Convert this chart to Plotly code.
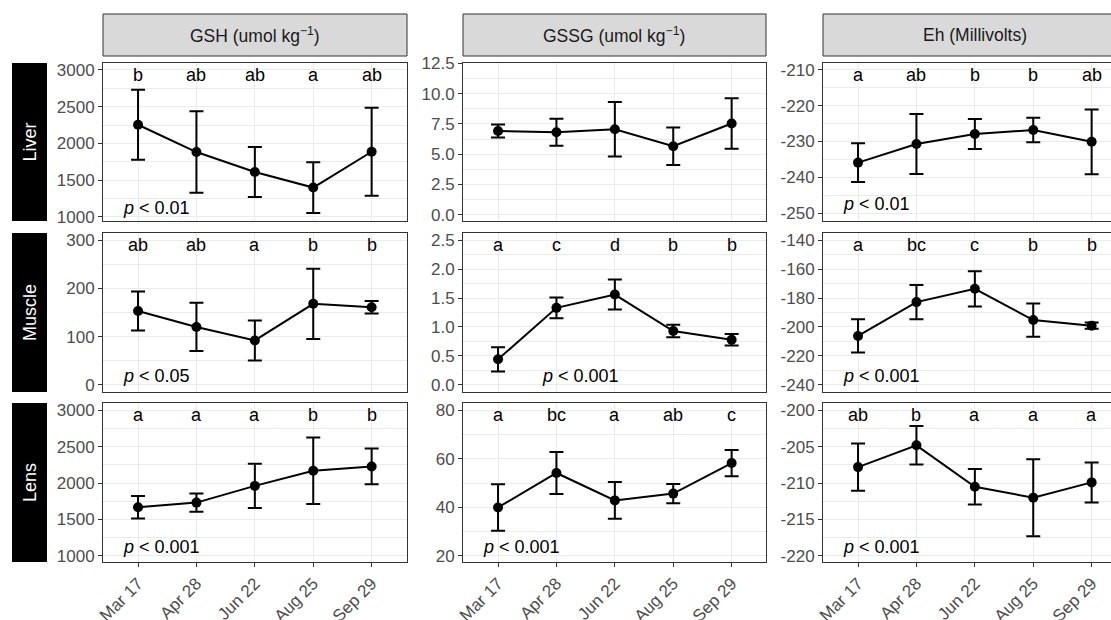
import plotly.graph_objects as go

# ---------------- data ----------------
dates = ["Mar 17", "Apr 28", "Jun 22", "Aug 25", "Sep 29"]
tissues = ["Liver", "Muscle", "Lens"]
measures = ["GSH (umol kg<sup>\u22121</sup>)", "GSSG (umol kg<sup>\u22121</sup>)", "Eh (Millivolts)"]

gsh_liver_mean = [2255, 1883, 1612, 1400, 1887]
gsh_liver_sd = [476, 554, 340, 345, 600]
gssg_liver_mean = [6.92, 6.81, 7.06, 5.66, 7.53]
gssg_liver_sd = [0.54, 1.11, 2.25, 1.55, 2.09]
eh_liver_mean = [-235.9, -230.7, -227.9, -226.8, -230.1]
eh_liver_sd = [5.4, 8.4, 4.2, 3.4, 9.05]

gsh_muscle_mean = [153, 120, 92, 168, 161]
gsh_muscle_sd = [40.5, 50, 41.5, 73, 13]
gssg_muscle_mean = [0.44, 1.33, 1.56, 0.93, 0.78]
gssg_muscle_sd = [0.21, 0.18, 0.26, 0.11, 0.10]
eh_muscle_mean = [-206.2, -182.8, -173.6, -195.2, -199.1]
eh_muscle_sd = [11.5, 11.8, 12.2, 11.5, 2.2]

gsh_lens_mean = [1667, 1731, 1961, 2168, 2228]
gsh_lens_sd = [154, 124, 303, 457, 246]
gssg_lens_mean = [40.0, 54.2, 42.9, 45.7, 58.3]
gssg_lens_sd = [9.6, 8.7, 7.6, 4.0, 5.4]
eh_lens_mean = [-207.8, -204.8, -210.5, -212.0, -209.9]
eh_lens_sd = [3.25, 2.65, 2.45, 5.3, 2.75]

# tick values / labels
gsh_liver_ticks = [1000, 1500, 2000, 2500, 3000]
gsh_liver_ticktext = ["1000", "1500", "2000", "2500", "3000"]
gssg_liver_ticks = [0.0, 2.5, 5.0, 7.5, 10.0, 12.5]
gssg_liver_ticktext = ["0.0", "2.5", "5.0", "7.5", "10.0", "12.5"]
eh_liver_ticks = [-250, -240, -230, -220, -210]
eh_liver_ticktext = ["-250", "-240", "-230", "-220", "-210"]
gsh_muscle_ticks = [0, 100, 200, 300]
gsh_muscle_ticktext = ["0", "100", "200", "300"]
gssg_muscle_ticks = [0.0, 0.5, 1.0, 1.5, 2.0, 2.5]
gssg_muscle_ticktext = ["0.0", "0.5", "1.0", "1.5", "2.0", "2.5"]
eh_muscle_ticks = [-240, -220, -200, -180, -160, -140]
eh_muscle_ticktext = ["-240", "-220", "-200", "-180", "-160", "-140"]
gsh_lens_ticks = [1000, 1500, 2000, 2500, 3000]
gsh_lens_ticktext = ["1000", "1500", "2000", "2500", "3000"]
gssg_lens_ticks = [20, 40, 60, 80]
gssg_lens_ticktext = ["20", "40", "60", "80"]
eh_lens_ticks = [-220, -215, -210, -205, -200]
eh_lens_ticktext = ["-220", "-215", "-210", "-205", "-200"]

# significance letters and p-value labels
gsh_liver_letters = ["b", "ab", "ab", "a", "ab"]
gssg_liver_letters = []
eh_liver_letters = ["a", "ab", "b", "b", "ab"]
gsh_muscle_letters = ["ab", "ab", "a", "b", "b"]
gssg_muscle_letters = ["a", "c", "d", "b", "b"]
eh_muscle_letters = ["a", "bc", "c", "b", "b"]
gsh_lens_letters = ["a", "a", "a", "b", "b"]
gssg_lens_letters = ["a", "bc", "a", "ab", "c"]
eh_lens_letters = ["ab", "b", "a", "a", "a"]

p_labels = [["< 0.01", None, "< 0.01"],
            ["< 0.05", "< 0.001", "< 0.001"],
            ["< 0.001", "< 0.001", "< 0.001"]]

# ---------------- layout geometry (pixels) ----------------
W, H = 1111, 620
col_px = [(103, 407), (463, 766), (823, 1111)]
row_px = [(63, 221), (233, 392), (403, 562)]
strip_top = (14, 56)
rowstrip_x = (12, 47)
px_per_cat = 58.4

y_ranges = [[(945, 3095), (-0.52, 12.53), (-252.2, -208.1)],
            [(-15, 315), (-0.125, 2.625), (-245, -135)],
            [(915, 3100), (17.5, 83.06), (-220.85, -198.98)]]
minor_dt = [[250, 1.25, 5], [50, 0.25, 10], [250, 10, 2.5]]

means = [[gsh_liver_mean, gssg_liver_mean, eh_liver_mean],
         [gsh_muscle_mean, gssg_muscle_mean, eh_muscle_mean],
         [gsh_lens_mean, gssg_lens_mean, eh_lens_mean]]
sds = [[gsh_liver_sd, gssg_liver_sd, eh_liver_sd],
       [gsh_muscle_sd, gssg_muscle_sd, eh_muscle_sd],
       [gsh_lens_sd, gssg_lens_sd, eh_lens_sd]]
ticks = [[gsh_liver_ticks, gssg_liver_ticks, eh_liver_ticks],
         [gsh_muscle_ticks, gssg_muscle_ticks, eh_muscle_ticks],
         [gsh_lens_ticks, gssg_lens_ticks, eh_lens_ticks]]
ticktexts = [[gsh_liver_ticktext, gssg_liver_ticktext, eh_liver_ticktext],
             [gsh_muscle_ticktext, gssg_muscle_ticktext, eh_muscle_ticktext],
             [gsh_lens_ticktext, gssg_lens_ticktext, eh_lens_ticktext]]
letters = [[gsh_liver_letters, gssg_liver_letters, eh_liver_letters],
           [gsh_muscle_letters, gssg_muscle_letters, eh_muscle_letters],
           [gsh_lens_letters, gssg_lens_letters, eh_lens_letters]]
p_xpos = [[-0.3, None, -0.3], [-0.3, 0.72, -0.3], [-0.3, -0.3, -0.3]]

FONT = "Liberation Sans, Arial, sans-serif"
TXT = 18
TICK = 17

fig = go.Figure()
layout = {}
annotations = []
shapes = []


def px2x(p):
    return p / W


def px2y(p):
    return 1 - p / H


for r in range(3):
    for c in range(3):
        k = r * 3 + c + 1
        xa = "x" if k == 1 else f"x{k}"
        ya = "y" if k == 1 else f"y{k}"
        xkey = "xaxis" if k == 1 else f"xaxis{k}"
        ykey = "yaxis" if k == 1 else f"yaxis{k}"
        x0, x1 = col_px[c]
        y0, y1 = row_px[r]
        width_px = x1 - x0
        xr = [-0.6, -0.6 + width_px / px_per_cat]
        bottom = (r == 2)
        layout[xkey] = dict(
            domain=[px2x(x0), px2x(x1)], anchor=ya, type="category",
            categoryorder="array", categoryarray=dates, range=xr,
            automargin=False,
            showgrid=True, gridcolor="#EBEBEB", gridwidth=1.1,
            showline=True, linecolor="#333333", linewidth=1, mirror=True,
            zeroline=False, fixedrange=True,
            ticks="outside" if bottom else "", ticklen=4, tickcolor="#333333",
            showticklabels=bottom, tickangle=-45,
            tickfont=dict(family=FONT, size=TICK, color="#4D4D4D"),
        )
        lo, hi = y_ranges[r][c]
        layout[ykey] = dict(
            domain=[px2y(y1), px2y(y0)], anchor=xa, range=[lo, hi],
            automargin=False,
            tickmode="array", tickvals=ticks[r][c], ticktext=ticktexts[r][c],
            showgrid=True, gridcolor="#EBEBEB", gridwidth=1.1,
            minor=dict(tickmode="linear", tick0=ticks[r][c][0], dtick=minor_dt[r][c],
                       showgrid=True, gridcolor="#EBEBEB", gridwidth=0.6, ticks=""),
            showline=True, linecolor="#333333", linewidth=1, mirror=(c != 2),
            zeroline=False, fixedrange=True,
            ticks="outside", ticklen=4, tickcolor="#333333",
            tickfont=dict(family=FONT, size=TICK, color="#4D4D4D"),
        )
        fig.add_trace(go.Scatter(
            x=dates, y=means[r][c], xaxis=xa, yaxis=ya, mode="lines+markers",
            line=dict(color="black", width=2),
            marker=dict(color="black", size=10),
            error_y=dict(type="data", array=sds[r][c], visible=True,
                         color="black", thickness=2, width=7),
            showlegend=False, hoverinfo="skip",
        ))
        # letters
        top_val = ticks[r][c][-1]
        for i, lab in enumerate(letters[r][c]):
            annotations.append(dict(
                x=i, y=top_val, xref=xa, yref=ya, text=lab, showarrow=False,
                xanchor="center", yanchor="middle", yshift=-5,
                font=dict(family=FONT, size=TXT, color="black")))
        # p labels
        if p_labels[r][c] is not None:
            annotations.append(dict(
                x=p_xpos[r][c], y=ticks[r][c][0], xref=xa, yref=ya,
                text="<i>p</i> " + p_labels[r][c].replace("<", "&lt;"),
                showarrow=False, xanchor="left", yanchor="middle", yshift=9,
                font=dict(family=FONT, size=TXT, color="black")))

# column strips
for c in range(3):
    x0, x1 = col_px[c]
    shapes.append(dict(type="rect", xref="paper", yref="paper",
                       x0=px2x(x0), x1=px2x(x1) + (0.01 if c == 2 else 0),
                       y0=px2y(strip_top[1]), y1=px2y(strip_top[0]),
                       fillcolor="#D9D9D9", line=dict(color="#333333", width=1), layer="below"))
    center = (x0 + x1) / 2 if c < 2 else (x0 + 1126) / 2
    annotations.append(dict(x=px2x(center),
                            y=px2y((strip_top[0] + strip_top[1]) / 2),
                            xref="paper", yref="paper", text=measures[c], showarrow=False,
                            xanchor="center", yanchor="middle",
                            font=dict(family=FONT, size=17.5, color="#1A1A1A")))

# row strips
for r in range(3):
    y0, y1 = row_px[r]
    shapes.append(dict(type="rect", xref="paper", yref="paper",
                       x0=px2x(rowstrip_x[0]), x1=px2x(rowstrip_x[1]),
                       y0=px2y(y1), y1=px2y(y0),
                       fillcolor="black", line=dict(color="black", width=0)))
    annotations.append(dict(x=px2x((rowstrip_x[0] + rowstrip_x[1]) / 2),
                            y=px2y((y0 + y1) / 2), xref="paper", yref="paper",
                            text=tissues[r], showarrow=False, textangle=-90,
                            xanchor="center", yanchor="middle",
                            font=dict(family=FONT, size=18, color="white")))

fig.update_layout(**layout)
fig.update_layout(template="none", width=W, height=H, margin=dict(l=0, r=0, t=0, b=0, pad=0),
                  paper_bgcolor="white", plot_bgcolor="white",
                  annotations=annotations, shapes=shapes,
                  font=dict(family=FONT))
fig.write_html("out.html", config={"displayModeBar": False},
               post_script="document.body.style.margin='0';document.body.style.padding='0';")
